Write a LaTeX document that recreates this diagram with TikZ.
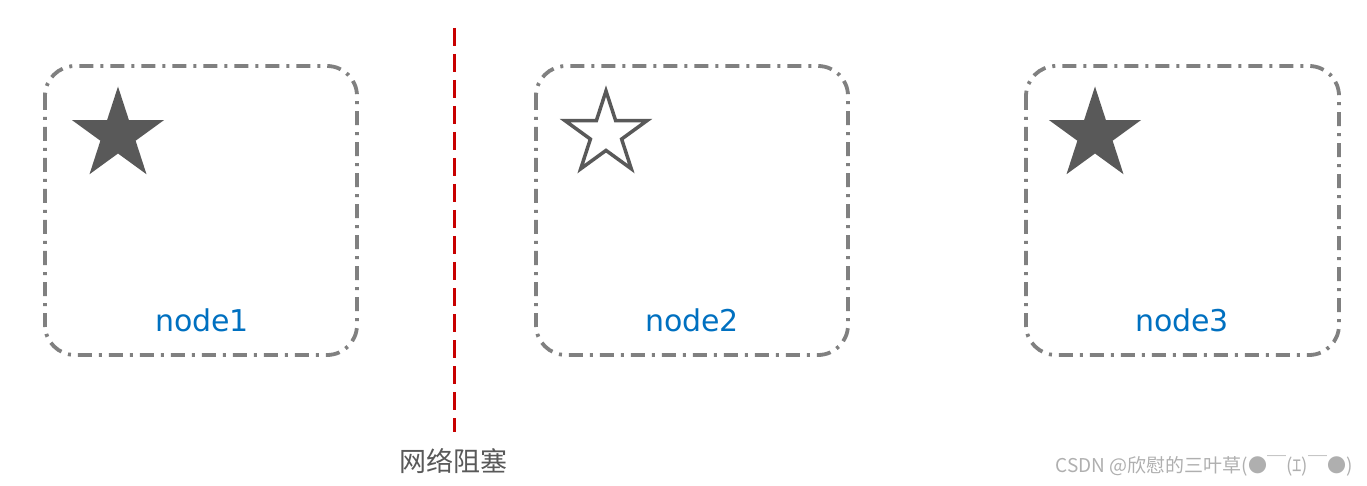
\documentclass[tikz,border=0pt]{standalone}
\usepackage{fontspec}
\setmainfont{DejaVu Sans}
\newfontfamily\cjk{Noto Sans CJK SC}
\usetikzlibrary{shapes.geometric}
\definecolor{boxgray}{RGB}{128,128,128}
\definecolor{stargray}{RGB}{89,89,89}
\definecolor{nodeblue}{RGB}{0,112,192}
\definecolor{blockred}{RGB}{200,0,0}
\definecolor{wmgray}{RGB}{175,175,175}
\tikzset{
  hostbox/.style={draw=boxgray, line width=3.8pt, rounded corners=30pt,
    dash pattern=on 14pt off 7pt on 3pt off 7pt},
  fullstar/.style={star, star points=5, star point ratio=2.618, fill=stargray,
    minimum size=97pt, inner sep=0pt},
  hollowstar/.style={star, star points=5, star point ratio=2.618, draw=stargray,
    line width=3.5pt, fill=white, minimum size=86pt, inner sep=0pt},
  hostlabel/.style={text=nodeblue, font=\fontsize{30}{30}\selectfont, inner sep=0pt},
}
\begin{document}
\begin{tikzpicture}[x=1pt,y=-1pt]
\useasboundingbox (0,0) rectangle (1367,486);
% boxes
\draw[hostbox] (45,66) rectangle (357,355);
\draw[hostbox] (536,66) rectangle (848,355);
\draw[hostbox] (1026,66) rectangle (1339,355);
% stars
\node[fullstar] (s1) at (118,135) {};
\node[hollowstar] (s2) at (606,134) {};
\node[fullstar] (s3) at (1095,135) {};
% labels
\node[hostlabel] (n1) at (202,320) {node1};
\node[hostlabel] (n2) at (692,320) {node2};
\node[hostlabel] (n3) at (1182,320) {node3};
% blocking line
\coordinate (ltop) at (454,28);
\coordinate (lbot) at (454,432);
\draw[blockred, line width=3pt, dash pattern=on 18pt off 8pt] (ltop) -- (lbot);
\node[text=stargray, font=\cjk\fontsize{27}{27}\selectfont, inner sep=0pt] (blk) at (453,461) {网络阻塞};
% watermark
\node[anchor=east, text=wmgray, font=\cjk\fontsize{19}{19}\selectfont, inner sep=0pt] (wm) at (1353,466) {CSDN @欣慰的三叶草(●￣(ｴ)￣●)};
\end{tikzpicture}
\end{document}
